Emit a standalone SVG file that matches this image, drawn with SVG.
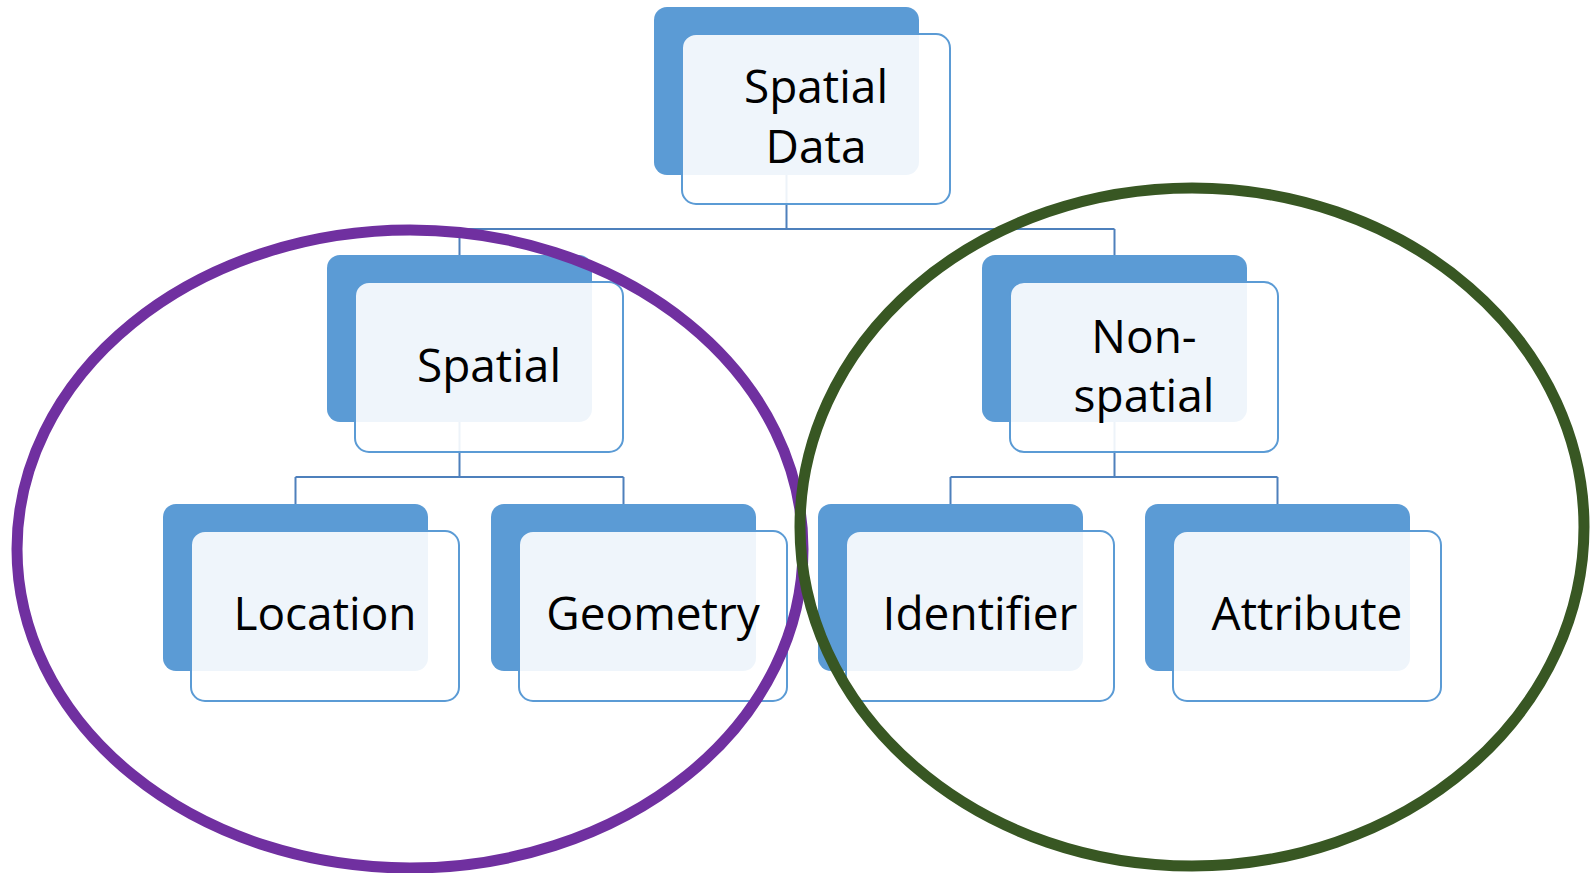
<svg xmlns="http://www.w3.org/2000/svg" width="1594" height="873" viewBox="0 0 1594 873">
<style>
.back{fill:#5B9BD5;}
.front{fill:#FFFFFF;fill-opacity:0.9;stroke:#5B9BD5;stroke-width:2;}
.lbl{font-family:"Open Sans","Liberation Sans",sans-serif;font-size:46px;fill:#000000;text-anchor:middle;}
.conn{fill:none;stroke:#4E80BC;stroke-width:2;}
.ell{fill:none;stroke-width:11;}
</style>
<rect width="1594" height="873" fill="#FFFFFF"/>
<g id="connectors">
<path class="conn" d="M786.5,175 V229 M459.5,229 H1114.5 M459.5,229 V255 M1114.5,229 V255"/>
<path class="conn" d="M459.5,422 V477 M295.5,477 H623.5 M295.5,477 V504 M623.5,477 V504"/>
<path class="conn" d="M1114.5,422 V477 M950.5,477 H1277.5 M950.5,477 V504 M1277.5,477 V504"/>
</g>
<g id="node-spatial-data">
<rect class="back" x="654" y="7" width="265" height="168" rx="13"/>
<rect class="front" x="682" y="34" width="268" height="170" rx="14"/>
<text class="lbl" x="816" y="103">Spatial</text>
<text class="lbl" x="816" y="163">Data</text>
</g>
<g id="node-spatial">
<rect class="back" x="327" y="255" width="265" height="167" rx="13"/>
<rect class="front" x="355" y="282" width="268" height="170" rx="14"/>
<text class="lbl" x="489" y="382">Spatial</text>
</g>
<g id="node-nonspatial">
<rect class="back" x="982" y="255" width="265" height="167" rx="13"/>
<rect class="front" x="1010" y="282" width="268" height="170" rx="14"/>
<text class="lbl" x="1144" y="353">Non-</text>
<text class="lbl" x="1144" y="412">spatial</text>
</g>
<g id="node-location">
<rect class="back" x="163" y="504" width="265" height="167" rx="13"/>
<rect class="front" x="191" y="531" width="268" height="170" rx="14"/>
<text class="lbl" x="325" y="630">Location</text>
</g>
<g id="node-geometry">
<rect class="back" x="491" y="504" width="265" height="167" rx="13"/>
<rect class="front" x="519" y="531" width="268" height="170" rx="14"/>
<text class="lbl" x="653" y="630">Geometry</text>
</g>
<g id="node-identifier">
<rect class="back" x="818" y="504" width="265" height="167" rx="13"/>
<rect class="front" x="846" y="531" width="268" height="170" rx="14"/>
<text class="lbl" x="980" y="630">Identifier</text>
</g>
<g id="node-attribute">
<rect class="back" x="1145" y="504" width="265" height="167" rx="13"/>
<rect class="front" x="1173" y="531" width="268" height="170" rx="14"/>
<text class="lbl" x="1307" y="630">Attribute</text>
</g>
<g id="group-spatial-ellipse">
<ellipse class="ell" cx="410" cy="549" rx="393" ry="319" stroke="#7030A0"/>
</g>
<g id="group-nonspatial-ellipse">
<ellipse class="ell" cx="1192" cy="527" rx="392" ry="339" stroke="#385723"/>
</g>
</svg>
